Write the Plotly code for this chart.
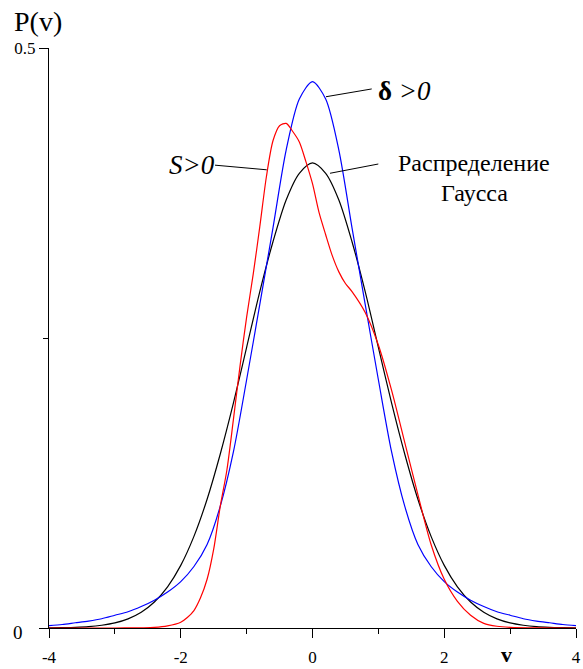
import plotly.graph_objects as go

# ---- data ----
v_grid = [-4.0, -3.8, -3.6, -3.4, -3.2, -3.0, -2.8, -2.6, -2.4, -2.2, -2.0, -1.8, -1.6, -1.4,
          -1.2, -1.0, -0.8, -0.6, -0.4, -0.2, 0.0, 0.2, 0.4, 0.6, 0.8, 1.0, 1.2, 1.4, 1.6,
          1.8, 2.0, 2.2, 2.4, 2.6, 2.8, 3.0, 3.2, 3.4, 3.6, 3.8, 4.0]

gauss_vals = [0.0001, 0.0003, 0.0006, 0.0012, 0.0024, 0.0044, 0.0079, 0.0136, 0.0224, 0.0355,
              0.054, 0.079, 0.111, 0.150, 0.194, 0.242, 0.290, 0.333, 0.369, 0.392, 0.401,
              0.392, 0.369, 0.333, 0.290, 0.242, 0.194, 0.150, 0.111, 0.079, 0.054, 0.0355,
              0.0224, 0.0136, 0.0079, 0.0044, 0.0024, 0.0012, 0.0006, 0.0003, 0.0001]

delta_vals = [0.002, 0.003, 0.0045, 0.006, 0.008, 0.011, 0.014, 0.0185, 0.024, 0.031, 0.040,
              0.053, 0.072, 0.105, 0.152, 0.214, 0.279, 0.345, 0.412, 0.456, 0.471,
              0.456, 0.412, 0.345, 0.279, 0.214, 0.152, 0.105, 0.072, 0.053, 0.040, 0.031,
              0.024, 0.0185, 0.014, 0.011, 0.008, 0.006, 0.0045, 0.003, 0.002]

v_skew = [-4.0, -3.0, -2.6, -2.4, -2.2, -2.0, -1.9, -1.8, -1.7, -1.6, -1.5, -1.4, -1.3, -1.2,
          -1.1, -1.0, -0.9, -0.8, -0.7, -0.6, -0.5, -0.4, -0.3, -0.2, -0.1, 0.0, 0.1, 0.2,
          0.3, 0.4, 0.5, 0.6, 0.8, 1.0, 1.2, 1.4, 1.6, 1.8, 2.0, 2.2, 2.4, 2.6, 2.8, 3.0,
          3.4, 4.0]
skew_vals = [0.0, 0.0, 0.0002, 0.0005, 0.0018, 0.005, 0.009, 0.015, 0.026, 0.042, 0.068,
             0.105, 0.136, 0.180, 0.226, 0.268, 0.305, 0.346, 0.389, 0.420, 0.433, 0.435,
             0.428, 0.419, 0.402, 0.383, 0.358, 0.339, 0.321, 0.307, 0.297, 0.290, 0.272,
             0.244, 0.205, 0.160, 0.115, 0.072, 0.042, 0.023, 0.011, 0.004, 0.0015, 0.0006,
             0.0001, 0.0]

x_tick_vals = [-4, -2, 0, 2, 4]
x_tick_text = ["-4", "-2", "0", "2", "4"]
y_tick_vals = [0, 0.5]
y_tick_text = ["", "0.5"]

FONT = "Liberation Serif"

fig = go.Figure()
fig.add_trace(go.Scatter(x=v_grid, y=gauss_vals, mode="lines",
                         line=dict(color="black", width=1.2, shape="spline", smoothing=0.8)))
fig.add_trace(go.Scatter(x=v_grid, y=delta_vals, mode="lines",
                         line=dict(color="#0000ff", width=1.2, shape="spline", smoothing=0.8)))
fig.add_trace(go.Scatter(x=v_skew, y=skew_vals, mode="lines",
                         line=dict(color="#ff0000", width=1.2, shape="spline", smoothing=0.8)))

def line(x0, y0, x1, y1):
    fig.add_shape(type="line", xref="x", yref="y", x0=x0, y0=y0, x1=x1, y1=y1,
                  line=dict(color="black", width=1))

# leader lines
line(0.205, 0.458, 0.899, 0.4647)
line(-1.48, 0.399, -0.695, 0.395)
line(0.266, 0.392, 0.999, 0.400)

fig.add_annotation(x=0.96, y=0.463, xref="x", yref="y", xanchor="left", yanchor="middle",
                   text="<b>δ</b> <i>&gt;0</i>", showarrow=False,
                   font=dict(family=FONT, size=27, color="black"))
fig.add_annotation(x=-1.45, y=0.399, xref="x", yref="y", xanchor="right", yanchor="middle",
                   text="<i>S&gt;0</i>", showarrow=False,
                   font=dict(family=FONT, size=27, color="black"))
fig.add_annotation(x=2.459, y=0.401, xref="x", yref="y", xanchor="center", yanchor="middle",
                   text="Распределение", showarrow=False,
                   font=dict(family=FONT, size=24, color="black"))
fig.add_annotation(x=2.459, y=0.375, xref="x", yref="y", xanchor="center", yanchor="middle",
                   text="Гаусса", showarrow=False,
                   font=dict(family=FONT, size=24, color="black"))

# axis titles and the zero label of the y axis
fig.add_annotation(x=-0.07, y=1.045, xref="paper", yref="paper", xanchor="left", yanchor="middle",
                   text="P(v)", showarrow=False, font=dict(family=FONT, size=28, color="black"))
fig.add_annotation(x=0.869, y=-0.045, xref="paper", yref="paper", xanchor="center", yanchor="middle",
                   text="<b>v</b>", showarrow=False, font=dict(family=FONT, size=22, color="black"))
fig.add_annotation(x=-0.058, y=-0.008, xref="paper", yref="paper", xanchor="center", yanchor="middle",
                   text="0", showarrow=False, font=dict(family=FONT, size=19, color="black"))

fig.update_layout(
    width=583, height=669,
    margin=dict(l=49, r=7, t=48, b=41),
    paper_bgcolor="white", plot_bgcolor="white",
    showlegend=False,
    font=dict(family=FONT, color="black"),
)
fig.update_xaxes(range=[-4, 4], showgrid=False, zeroline=False, showline=True, automargin=False,
                 linecolor="black", linewidth=1, ticks="outside", ticklen=9, tickwidth=1,
                 tickcolor="black", tickvals=x_tick_vals, ticktext=x_tick_text,
                 ticklabelstandoff=5,
                 tickfont=dict(family=FONT, size=17, color="black"),
                 minor=dict(ticks="outside", ticklen=5, tickwidth=1, tickcolor="black", dtick=1,
                            showgrid=False))
fig.update_yaxes(range=[0, 0.5], showgrid=False, zeroline=False, showline=True, automargin=False,
                 linecolor="black", linewidth=1, ticks="outside", ticklen=9, tickwidth=1,
                 tickcolor="black", tickvals=y_tick_vals, ticktext=y_tick_text,
                 tickfont=dict(family=FONT, size=17, color="black"),
                 minor=dict(ticks="outside", ticklen=5, tickwidth=1, tickcolor="black", dtick=0.25,
                            showgrid=False))

fig.write_html("out.html", config={"displayModeBar": False},
               post_script="document.body.style.margin='0';document.body.style.overflow='hidden';")
